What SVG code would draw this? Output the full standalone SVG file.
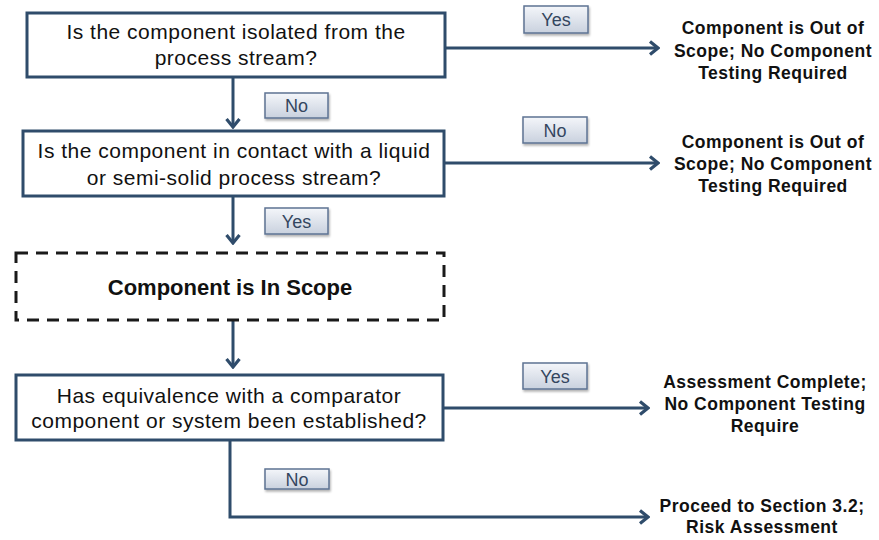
<svg xmlns="http://www.w3.org/2000/svg" width="879" height="540" viewBox="0 0 879 540">
<defs>
<linearGradient id="lblg" x1="0" y1="0" x2="0" y2="1">
<stop offset="0" stop-color="#f4f6fa"/>
<stop offset="1" stop-color="#c9d1de"/>
</linearGradient>
<filter id="sh" x="-20%" y="-20%" width="140%" height="160%">
<feDropShadow dx="1" dy="2" stdDeviation="1.2" flood-color="#000" flood-opacity="0.3"/>
</filter>
<marker id="arr" viewBox="0 0 12 16" refX="10" refY="8" markerWidth="12" markerHeight="16" markerUnits="userSpaceOnUse" orient="auto">
<path d="M2,1.5 L10,8 L2,14.5" fill="none" stroke="#2f4c6b" stroke-width="3.2"/>
</marker>
<style>
.box{fill:#fff;stroke:#2f4c6b;stroke-width:3}
.dash{fill:#fff;stroke:#1a1a1a;stroke-width:3;stroke-dasharray:12 8}
.q{font-family:"Liberation Sans",Arial,sans-serif;font-size:21px;fill:#111;text-anchor:middle;letter-spacing:0.5px}
.b{font-family:"Liberation Sans",Arial,sans-serif;font-weight:bold;font-size:22px;fill:#111;text-anchor:middle}
.r{font-family:"Liberation Sans",Arial,sans-serif;font-weight:bold;font-size:17.5px;fill:#111;text-anchor:middle;letter-spacing:0.5px}
.lb{fill:url(#lblg);stroke:#5d7393;stroke-width:1.5;filter:url(#sh)}
.lt{font-family:"Liberation Sans",Arial,sans-serif;font-size:18px;fill:#34465f;text-anchor:middle}
.c{fill:none;stroke:#2f4c6b;stroke-width:3}
</style>
</defs>
<g id="connectors">
<path class="c" d="M233,77 V127" marker-end="url(#arr)"/>
<path class="c" d="M233,196 V243" marker-end="url(#arr)"/>
<path class="c" d="M233,320 V367" marker-end="url(#arr)"/>
<path class="c" d="M445,48 H658" marker-end="url(#arr)"/>
<path class="c" d="M444,163 H658" marker-end="url(#arr)"/>
<path class="c" d="M443,408 H648" marker-end="url(#arr)"/>
<path class="c" d="M230,440 V517 H648" marker-end="url(#arr)"/>
</g>
<g id="label-no1"><rect class="lb" x="265" y="93" width="63" height="25"/><text class="lt" x="296.5" y="112">No</text></g>
<g id="label-yes1"><rect class="lb" x="524" y="6" width="64" height="27"/><text class="lt" x="556" y="26">Yes</text></g>
<g id="label-no2"><rect class="lb" x="523" y="117" width="64" height="26"/><text class="lt" x="555" y="137">No</text></g>
<g id="label-yes2"><rect class="lb" x="265" y="208" width="63" height="26"/><text class="lt" x="296.5" y="228">Yes</text></g>
<g id="label-yes3"><rect class="lb" x="523" y="363" width="64" height="26"/><text class="lt" x="555" y="383">Yes</text></g>
<g id="label-no3"><rect class="lb" x="265" y="469" width="64" height="20"/><text class="lt" x="297" y="486">No</text></g>
<g id="q1">
<rect class="box" x="27" y="13" width="418" height="64"/>
<text class="q" x="236" y="39">Is the component isolated from the</text>
<text class="q" x="236" y="65">process stream?</text>
</g>
<g id="q2">
<rect class="box" x="23" y="131" width="421" height="65"/>
<text class="q" x="234" y="158">Is the component in contact with a liquid</text>
<text class="q" x="234" y="185">or semi-solid process stream?</text>
</g>
<g id="inscope">
<rect class="dash" x="16" y="253" width="428" height="67"/>
<text class="b" x="230" y="295">Component is In Scope</text>
</g>
<g id="q3">
<rect class="box" x="16" y="375" width="427" height="65"/>
<text class="q" x="229" y="403">Has equivalence with a comparator</text>
<text class="q" x="229" y="428">component or system been established?</text>
</g>
<g id="out1">
<text class="r" x="773" y="34">Component is Out of</text>
<text class="r" x="773" y="57">Scope; No Component</text>
<text class="r" x="773" y="79">Testing Required</text>
</g>
<g id="out2">
<text class="r" x="773" y="148">Component is Out of</text>
<text class="r" x="773" y="170">Scope; No Component</text>
<text class="r" x="773" y="192">Testing Required</text>
</g>
<g id="complete">
<text class="r" x="765" y="388">Assessment Complete;</text>
<text class="r" x="765" y="410">No Component Testing</text>
<text class="r" x="765" y="432">Require</text>
</g>
<g id="proceed">
<text class="r" x="762" y="512">Proceed to Section 3.2;</text>
<text class="r" x="762" y="533">Risk Assessment</text>
</g>
</svg>
